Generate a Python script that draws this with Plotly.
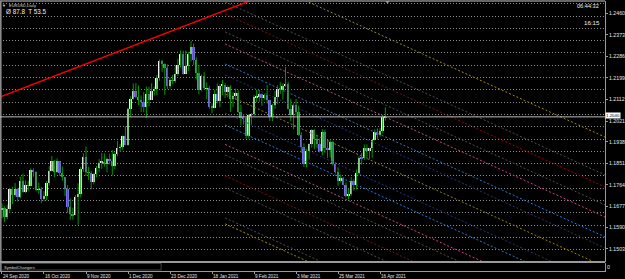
import plotly.graph_objects as go
import pandas as pd

# ---------------- data (EURUSD daily) ----------------
dates = pd.bdate_range("2020-09-24", "2021-04-20", freq="C",
                       holidays=["2020-12-25", "2021-01-01"])

opens = [1.1664,1.1670,1.1631,1.1665,1.1745,1.1721,1.1748,1.1716,1.1781,1.1734,
         1.1762,1.1760,1.1826,1.1814,1.1743,1.1746,1.1706,1.1717,1.1770,1.1820,
         1.1860,1.1816,1.1860,1.1811,1.1794,1.1746,1.1673,1.1646,1.1640,1.1715,
         1.1725,1.1830,1.1875,1.1815,1.1813,1.1775,1.1808,1.1833,1.1853,1.1858,
         1.1850,1.1870,1.1860,1.1841,1.1888,1.1914,1.1917,1.1963,1.1926,1.2071,
         1.2114,1.2146,1.2120,1.2107,1.2101,1.2079,1.2132,1.2110,1.2147,1.2152,
         1.2198,1.2266,1.2255,1.2240,1.2165,1.2188,1.2186,1.2214,1.2249,1.2297,
         1.2216,1.2248,1.2297,1.2326,1.2272,1.2219,1.2151,1.2206,1.2156,1.2157,
         1.2081,1.2076,1.2131,1.2106,1.2166,1.2170,1.2140,1.2160,1.2113,1.2125,
         1.2137,1.2060,1.2037,1.2035,1.1964,1.2047,1.2050,1.2120,1.2120,1.2131,
         1.2118,1.2127,1.2107,1.2040,1.2090,1.2122,1.2155,1.2150,1.2166,1.2175,
         1.2074,1.2046,1.2089,1.2060,1.1965,1.1918,1.1848,1.1900,1.1929,1.1985,
         1.1952,1.1930,1.1902,1.1977,1.1915,1.1904,1.1938,1.1850,1.1817,1.1780,
         1.1792,1.1765,1.1718,1.1728,1.1779,1.1762,1.1813,1.1873,1.1871,1.1915,
         1.1900,1.1912,1.1946,1.1980,1.1965,1.1983,1.2038]
highs = [1.1689,1.1677,1.1682,1.1749,1.1755,1.1771,1.1750,1.1797,1.1809,1.1782,
         1.1779,1.1831,1.1831,1.1819,1.1773,1.1755,1.1738,1.1779,1.1840,1.1881,
         1.1864,1.1871,1.1860,1.1838,1.1795,1.1762,1.1708,1.1671,1.1722,1.1770,
         1.1837,1.1891,1.1920,1.1837,1.1819,1.1813,1.1840,1.1868,1.1893,1.1891,
         1.1874,1.1890,1.1905,1.1896,1.1941,1.1930,1.1965,1.2002,1.2077,1.2123,
         1.2176,1.2177,1.2167,1.2127,1.2141,1.2163,1.2162,1.2177,1.2163,1.2211,
         1.2273,1.2272,1.2258,1.2253,1.2200,1.2210,1.2250,1.2276,1.2310,1.2310,
         1.2310,1.2304,1.2349,1.2338,1.2282,1.2251,1.2212,1.2222,1.2180,1.2165,
         1.2094,1.2149,1.2176,1.2173,1.2190,1.2177,1.2168,1.2168,1.2140,1.2155,
         1.2147,1.2090,1.2051,1.2040,1.2050,1.2056,1.2130,1.2150,1.2149,1.2135,
         1.2134,1.2169,1.2110,1.2092,1.2145,1.2168,1.2181,1.2177,1.2243,1.2183,
         1.2113,1.2095,1.2113,1.2085,1.1978,1.1932,1.1910,1.1932,1.1990,1.1990,
         1.1966,1.1952,1.1990,1.1989,1.1942,1.1945,1.1943,1.1855,1.1835,1.1806,
         1.1795,1.1774,1.1748,1.1795,1.1787,1.1826,1.1880,1.1893,1.1928,1.1928,
         1.1915,1.1947,1.1990,1.1993,1.1994,1.2048,1.2079]
lows = [1.1627,1.1612,1.1624,1.1648,1.1685,1.1715,1.1696,1.1709,1.1731,1.1730,
        1.1738,1.1757,1.1797,1.1737,1.1727,1.1689,1.1697,1.1702,1.1761,1.1818,
        1.1795,1.1811,1.1800,1.1780,1.1718,1.1650,1.1622,1.1622,1.1640,1.1602,
        1.1712,1.1817,1.1800,1.1784,1.1745,1.1765,1.1795,1.1815,1.1829,1.1838,
        1.1815,1.1847,1.1802,1.1826,1.1880,1.1898,1.1906,1.1924,1.1923,1.2039,
        1.2111,1.2115,1.2088,1.2059,1.2058,1.2036,1.2082,1.2108,1.2126,1.2128,
        1.2187,1.2223,1.2130,1.2153,1.2155,1.2174,1.2179,1.2206,1.2241,1.2212,
        1.2216,1.2226,1.2265,1.2251,1.2192,1.2132,1.2144,1.2150,1.2112,1.2073,
        1.2054,1.2075,1.2095,1.2080,1.2129,1.2116,1.2120,1.2059,1.2080,1.2109,
        1.2056,1.2006,1.2009,1.1951,1.1952,1.2011,1.2044,1.2100,1.2102,1.2085,
        1.2110,1.2094,1.2023,1.2022,1.2073,1.2091,1.2133,1.2110,1.2162,1.2070,
        1.2022,1.1990,1.2045,1.1963,1.1893,1.1836,1.1835,1.1867,1.1915,1.1910,
        1.1912,1.1895,1.1883,1.1894,1.1873,1.1875,1.1842,1.1810,1.1760,1.1773,
        1.1762,1.1712,1.1704,1.1718,1.1740,1.1744,1.1804,1.1846,1.1865,1.1870,
        1.1868,1.1873,1.1943,1.1948,1.1960,1.1974,1.2025]
closes = [1.1670,1.1631,1.1665,1.1745,1.1721,1.1748,1.1716,1.1781,1.1734,1.1762,
          1.1760,1.1826,1.1814,1.1743,1.1746,1.1706,1.1717,1.1770,1.1820,1.1860,
          1.1816,1.1860,1.1811,1.1794,1.1746,1.1673,1.1646,1.1640,1.1715,1.1725,
          1.1830,1.1875,1.1815,1.1813,1.1775,1.1808,1.1833,1.1853,1.1858,1.1850,
          1.1870,1.1860,1.1841,1.1888,1.1914,1.1917,1.1963,1.1926,1.2071,1.2114,
          1.2146,1.2120,1.2107,1.2101,1.2079,1.2132,1.2110,1.2147,1.2152,1.2198,
          1.2266,1.2255,1.2240,1.2165,1.2188,1.2186,1.2214,1.2249,1.2297,1.2216,
          1.2248,1.2297,1.2326,1.2272,1.2219,1.2151,1.2206,1.2156,1.2157,1.2081,
          1.2076,1.2131,1.2106,1.2166,1.2170,1.2140,1.2160,1.2113,1.2125,1.2137,
          1.2060,1.2037,1.2035,1.1964,1.2047,1.2050,1.2120,1.2120,1.2131,1.2118,
          1.2127,1.2107,1.2040,1.2090,1.2122,1.2155,1.2150,1.2166,1.2175,1.2074,
          1.2046,1.2089,1.2060,1.1965,1.1918,1.1848,1.1900,1.1929,1.1985,1.1952,
          1.1930,1.1902,1.1977,1.1915,1.1904,1.1938,1.1850,1.1817,1.1780,1.1792,
          1.1765,1.1718,1.1728,1.1779,1.1762,1.1813,1.1873,1.1871,1.1915,1.1900,
          1.1912,1.1946,1.1980,1.1965,1.1983,1.2038,1.2040]

# price-scale labels (right axis) and dotted horizontal levels
price_labels = [1.2460, 1.2373, 1.2286, 1.2199, 1.2112, 1.2021, 1.1938,
                1.1851, 1.1764, 1.1677, 1.1590, 1.1503]
level_start, level_step = 1.2450, 0.0050

# red trend line anchors (bar index, price)
trend_bars = [0, 95]
trend_prices = [1.2124, 1.2514]

# parallel channel lines: price at the start bar, colour
channel_start_bar = 85
channel_slope = -0.000486      # price per bar
channel_prices = [1.2661, 1.2507, 1.2458, 1.2385, 1.2336, 1.2255, 1.2210, 1.2133,
                  1.2056, 1.2007, 1.1928, 1.1885, 1.1800, 1.1751, 1.1629, 1.1605]
channel_colors = ["#9a8a1e", "#4e4e4e", "#850f0f", "#4e4e4e", "#c04a84", "#2c78cc",
                  "#283576", "#94801a", "#283576", "#2c78cc", "#c04a84", "#4e4e4e",
                  "#850f0f", "#4e4e4e", "#4e4e4e", "#9a8a1e"]

# ---------------- layout helpers ----------------
W, H = 625, 279
ML, MR, MT, MB = 0, 13, 1, 8
PW, PH = W - ML - MR, H - MT - MB
PX_PER_BAR = 2.656
X0_BAR = -2 / PX_PER_BAR


def pxx(x):
    return (x - ML) / PW


def pxy(y):
    return 1 - (y - MT) / PH


n = len(closes)
idx = list(range(n))
main_bottom = pxy(262)
y_top = level_start + 15 / 2460
y_bot = level_start - 246 / 2460

fig = go.Figure()

# channel lines
far_bar = 240
for p, c in zip(channel_prices, channel_colors):
    fig.add_trace(go.Scatter(
        x=[channel_start_bar, far_bar],
        y=[p, p + channel_slope * (far_bar - channel_start_bar)],
        mode="lines", line=dict(color=c, width=1, dash="2px,2px"),
        hoverinfo="skip", showlegend=False))

# trend line (ray)
tslope = (trend_prices[1] - trend_prices[0]) / (trend_bars[1] - trend_bars[0])
tx = [-5, 150]
fig.add_trace(go.Scatter(
    x=tx, y=[trend_prices[0] + tslope * (b - trend_bars[0]) for b in tx],
    mode="lines", line=dict(color="#ff0000", width=1.4),
    hoverinfo="skip", showlegend=False))

# wicks
wx, wy = [], []
for i in idx:
    wx += [i, i, None]
    wy += [lows[i], highs[i], None]
fig.add_trace(go.Scatter(x=wx, y=wy, mode="lines",
                         line=dict(color="#009a00", width=1),
                         hoverinfo="skip", showlegend=False))

# bodies
body_base = [min(o, c) for o, c in zip(opens, closes)]
body_h = [max(abs(c - o), 0.00012) for o, c in zip(opens, closes)]
body_col = ["#f4f4f4" if c >= o else "#7b6cf0" for o, c in zip(opens, closes)]
fig.add_trace(go.Bar(x=idx, y=body_h, base=body_base, width=0.72,
                     marker=dict(color=body_col, line=dict(width=0)),
                     hoverinfo="skip", showlegend=False))

# sub-window placeholder trace
fig.add_trace(go.Scatter(x=[0], y=[0], yaxis="y2", mode="markers",
                         marker=dict(opacity=0), hoverinfo="skip", showlegend=False))

tickvals = list(range(0, n, 16))
ticktext = [f"{dates[i].day} {dates[i].strftime('%b %Y')}" for i in tickvals]

axis_font = dict(family="Liberation Sans, Arial", size=4.6, color="#e6e6e6")
yaxis_font = dict(family="Liberation Sans, Arial", size=5.2, color="#e6e6e6")

fig.update_layout(
    width=W, height=H,
    margin=dict(l=ML, r=MR, t=MT, b=MB, pad=0),
    paper_bgcolor="#000000", plot_bgcolor="#000000",
    barmode="overlay", bargap=0, showlegend=False,
    xaxis=dict(range=[X0_BAR, X0_BAR + PW / PX_PER_BAR], anchor="y2",
               showgrid=False, zeroline=False, showline=True, linecolor="#9a9a9a",
               linewidth=1, tickvals=tickvals, ticktext=ticktext,
               ticks="outside", ticklen=2, tickcolor="#9a9a9a",
               ticklabelposition="outside right", tickfont=axis_font,
               fixedrange=True),
    yaxis=dict(domain=[main_bottom, 1], range=[y_bot, y_top], side="right",
               showgrid=False, zeroline=False, showline=True, linecolor="#9a9a9a",
               tickvals=price_labels, ticktext=[f"{v:.4f}" for v in price_labels],
               ticks="outside", ticklen=2, tickcolor="#9a9a9a", tickfont=yaxis_font,
               minor=dict(tick0=level_start, dtick=level_step, showgrid=True,
                          gridcolor="#8a8a8a", gridwidth=1, griddash="1px,2px",
                          ticks=""),
               fixedrange=True),
    yaxis2=dict(domain=[0, pxy(263)], range=[-1, 1], side="right",
                showgrid=False, zeroline=False, showline=True, linecolor="#9a9a9a",
                tickvals=[0], ticktext=["0"], ticks="", tickfont=yaxis_font,
                fixedrange=True),
)

shapes = [
    # frame: top, left, separator between main window and sub-window
    dict(type="line", xref="paper", yref="paper", x0=0, x1=1, y0=1, y1=1,
         line=dict(color="#8a8a8a", width=1.5)),
    dict(type="line", xref="paper", yref="paper", x0=0.001, x1=0.001, y0=0, y1=1,
         line=dict(color="#8a8a8a", width=2)),
    dict(type="line", xref="paper", yref="paper", x0=0, x1=1,
         y0=main_bottom, y1=main_bottom, line=dict(color="#9a9a9a", width=2)),
    # bid line
    dict(type="line", xref="paper", yref="y", x0=0, x1=1,
         y0=closes[-1], y1=closes[-1], line=dict(color="#bdbdbd", width=1)),
    # indicator-box outline
    dict(type="rect", xref="paper", yref="paper", x0=pxx(1), x1=pxx(163),
         y0=pxy(270), y1=pxy(263.5), line=dict(color="#6a6a6a", width=0.6)),
    # chart-shift marker at the top edge
    dict(type="path", xref="paper", yref="paper",
         path=f"M {pxx(390)} {pxy(1)} L {pxx(394)} {pxy(1)} L {pxx(392)} {pxy(4)} Z",
         fillcolor="#9a9a9a", line=dict(width=0)),
]
fig.update_layout(shapes=shapes)

ann = [
    dict(text="▼", x=pxx(1), y=pxy(1.5), font=dict(size=4, color="#dddddd")),
    dict(text="EURUSD,Daily", x=pxx(8), y=pxy(1.5),
         font=dict(size=4, color="#d8d8d8", family="Liberation Sans, Arial")),
    dict(text="Ø 87.8  T 53.5", x=pxx(5), y=pxy(7),
         font=dict(size=6.3, color="#f0f0f0", family="Liberation Sans, Arial")),
    dict(text="06:44:32", x=pxx(583), y=pxy(1.5),
         font=dict(size=5.6, color="#f0f0f0", family="Liberation Sans, Arial")),
    dict(text="16:15", x=pxx(590), y=pxy(18.5),
         font=dict(size=6.2, color="#f0f0f0", family="Liberation Sans, Arial")),
    dict(text="SymbolChangers", x=pxx(3), y=pxy(263.5),
         font=dict(size=4, color="#d8d8d8", family="Liberation Sans, Arial")),
]
for a in ann:
    fig.add_annotation(xref="paper", yref="paper", xanchor="left", yanchor="top",
                       showarrow=False, borderpad=0, **a)

# current price box on the price scale
fig.add_annotation(xref="paper", yref="y", x=1.0, y=closes[-1], xanchor="left",
                   yanchor="bottom", showarrow=False, text=f"{closes[-1]:.4f}",
                   bgcolor="#ffffff", borderpad=0, yshift=-2,
                   font=dict(size=4.4, color="#000000", family="Liberation Sans, Arial"))

fig.write_html("out.html", config={"displayModeBar": False})
